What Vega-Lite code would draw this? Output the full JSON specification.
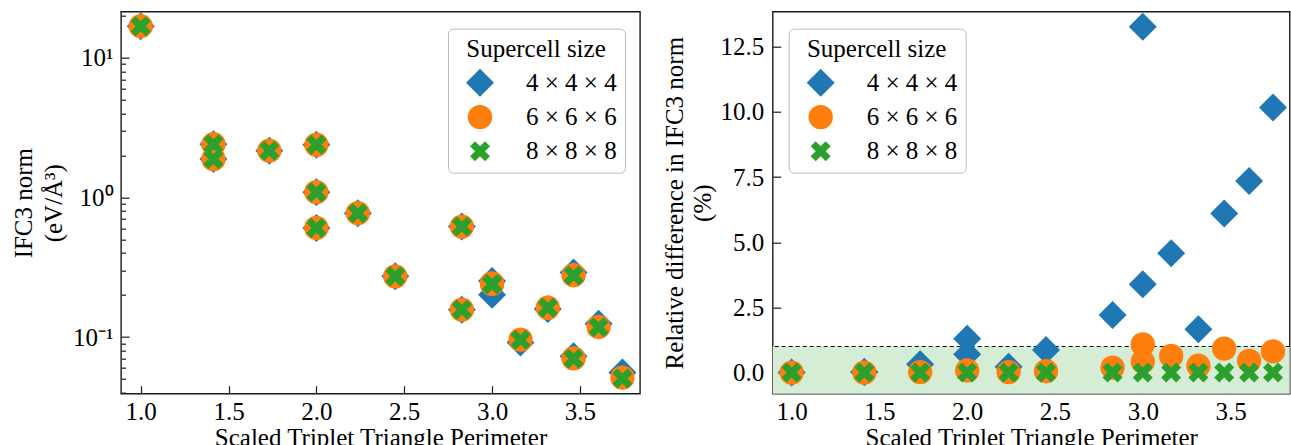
{
  "$schema": "https://vega.github.io/schema/vega-lite/v6.json",
  "padding": {"left": 10, "top": 10.7, "right": 0, "bottom": 0},
  "autosize": {"type": "pad"},
  "config": {
    "font": "Liberation Serif",
    "view": {"stroke": "#1a1a1a", "strokeWidth": 1.4},
    "axis": {
      "grid": false, "domain": false,
      "tickColor": "#1a1a1a", "tickWidth": 1.2,
      "labelFont": "Liberation Serif", "titleFont": "Liberation Serif",
      "labelFontSize": 25, "titleFontSize": 25, "titleFontWeight": "normal",
      "labelColor": "black", "titleColor": "black"
    },
    "legend": {
      "titleFont": "Liberation Serif", "labelFont": "Liberation Serif",
      "titleFontSize": 25, "labelFontSize": 25, "titleFontWeight": "normal",
      "titleColor": "black", "labelColor": "black", "titleAnchor": "middle",
      "fillColor": "white", "strokeColor": "#bbbbbb", "cornerRadius": 5,
      "padding": 8, "rowPadding": 8, "titlePadding": 7, "labelOffset": 32, "symbolOffset": 10,
      "symbolStrokeWidth": 0, "symbolOpacity": 1
    }
  },
  "datasets": {
    "norm": [
      {"x": 1.0, "size": "4 × 4 × 4", "v": 16.8},
      {"x": 1.414, "size": "4 × 4 × 4", "v": 2.40},
      {"x": 1.414, "size": "4 × 4 × 4", "v": 1.88},
      {"x": 1.732, "size": "4 × 4 × 4", "v": 2.16},
      {"x": 2.0, "size": "4 × 4 × 4", "v": 2.38},
      {"x": 2.0, "size": "4 × 4 × 4", "v": 1.09},
      {"x": 2.0, "size": "4 × 4 × 4", "v": 0.604},
      {"x": 2.236, "size": "4 × 4 × 4", "v": 0.77},
      {"x": 2.449, "size": "4 × 4 × 4", "v": 0.272},
      {"x": 2.828, "size": "4 × 4 × 4", "v": 0.618},
      {"x": 2.828, "size": "4 × 4 × 4", "v": 0.157},
      {"x": 3.0, "size": "4 × 4 × 4", "v": 0.252},
      {"x": 3.0, "size": "4 × 4 × 4", "v": 0.201},
      {"x": 3.162, "size": "4 × 4 × 4", "v": 0.0915},
      {"x": 3.317, "size": "4 × 4 × 4", "v": 0.159},
      {"x": 3.464, "size": "4 × 4 × 4", "v": 0.290},
      {"x": 3.464, "size": "4 × 4 × 4", "v": 0.0729},
      {"x": 3.606, "size": "4 × 4 × 4", "v": 0.1245},
      {"x": 3.742, "size": "4 × 4 × 4", "v": 0.0557},
      {"x": 1.0, "size": "6 × 6 × 6", "v": 16.8},
      {"x": 1.414, "size": "6 × 6 × 6", "v": 2.40},
      {"x": 1.414, "size": "6 × 6 × 6", "v": 1.88},
      {"x": 1.732, "size": "6 × 6 × 6", "v": 2.16},
      {"x": 2.0, "size": "6 × 6 × 6", "v": 2.38},
      {"x": 2.0, "size": "6 × 6 × 6", "v": 1.09},
      {"x": 2.0, "size": "6 × 6 × 6", "v": 0.604},
      {"x": 2.236, "size": "6 × 6 × 6", "v": 0.77},
      {"x": 2.449, "size": "6 × 6 × 6", "v": 0.272},
      {"x": 2.828, "size": "6 × 6 × 6", "v": 0.618},
      {"x": 2.828, "size": "6 × 6 × 6", "v": 0.157},
      {"x": 3.0, "size": "6 × 6 × 6", "v": 0.242},
      {"x": 3.0, "size": "6 × 6 × 6", "v": 0.240},
      {"x": 3.162, "size": "6 × 6 × 6", "v": 0.0957},
      {"x": 3.317, "size": "6 × 6 × 6", "v": 0.162},
      {"x": 3.464, "size": "6 × 6 × 6", "v": 0.277},
      {"x": 3.464, "size": "6 × 6 × 6", "v": 0.0703},
      {"x": 3.606, "size": "6 × 6 × 6", "v": 0.118},
      {"x": 3.742, "size": "6 × 6 × 6", "v": 0.0512},
      {"x": 1.0, "size": "8 × 8 × 8", "v": 16.8},
      {"x": 1.414, "size": "8 × 8 × 8", "v": 2.40},
      {"x": 1.414, "size": "8 × 8 × 8", "v": 1.88},
      {"x": 1.732, "size": "8 × 8 × 8", "v": 2.16},
      {"x": 2.0, "size": "8 × 8 × 8", "v": 2.38},
      {"x": 2.0, "size": "8 × 8 × 8", "v": 1.09},
      {"x": 2.0, "size": "8 × 8 × 8", "v": 0.604},
      {"x": 2.236, "size": "8 × 8 × 8", "v": 0.77},
      {"x": 2.449, "size": "8 × 8 × 8", "v": 0.272},
      {"x": 2.828, "size": "8 × 8 × 8", "v": 0.618},
      {"x": 2.828, "size": "8 × 8 × 8", "v": 0.157},
      {"x": 3.0, "size": "8 × 8 × 8", "v": 0.240},
      {"x": 3.0, "size": "8 × 8 × 8", "v": 0.239},
      {"x": 3.162, "size": "8 × 8 × 8", "v": 0.0958},
      {"x": 3.317, "size": "8 × 8 × 8", "v": 0.162},
      {"x": 3.464, "size": "8 × 8 × 8", "v": 0.276},
      {"x": 3.464, "size": "8 × 8 × 8", "v": 0.0700},
      {"x": 3.606, "size": "8 × 8 × 8", "v": 0.1175},
      {"x": 3.742, "size": "8 × 8 × 8", "v": 0.0505}
    ],
    "diff": [
      {"x": 1.0, "size": "4 × 4 × 4", "d": 0.0},
      {"x": 1.414, "size": "4 × 4 × 4", "d": 0.02},
      {"x": 1.414, "size": "4 × 4 × 4", "d": 0.02},
      {"x": 1.732, "size": "4 × 4 × 4", "d": 0.32},
      {"x": 2.0, "size": "4 × 4 × 4", "d": 1.30},
      {"x": 2.0, "size": "4 × 4 × 4", "d": 0.70},
      {"x": 2.236, "size": "4 × 4 × 4", "d": 0.22},
      {"x": 2.449, "size": "4 × 4 × 4", "d": 0.87},
      {"x": 2.828, "size": "4 × 4 × 4", "d": 2.21},
      {"x": 3.0, "size": "4 × 4 × 4", "d": 13.26},
      {"x": 3.0, "size": "4 × 4 × 4", "d": 3.39},
      {"x": 3.162, "size": "4 × 4 × 4", "d": 4.58},
      {"x": 3.317, "size": "4 × 4 × 4", "d": 1.66},
      {"x": 3.464, "size": "4 × 4 × 4", "d": 6.10},
      {"x": 3.606, "size": "4 × 4 × 4", "d": 7.35},
      {"x": 3.742, "size": "4 × 4 × 4", "d": 10.17},
      {"x": 1.0, "size": "6 × 6 × 6", "d": 0.0},
      {"x": 1.414, "size": "6 × 6 × 6", "d": 0.0},
      {"x": 1.732, "size": "6 × 6 × 6", "d": 0.02},
      {"x": 2.0, "size": "6 × 6 × 6", "d": 0.08},
      {"x": 2.236, "size": "6 × 6 × 6", "d": 0.02},
      {"x": 2.449, "size": "6 × 6 × 6", "d": 0.05},
      {"x": 2.828, "size": "6 × 6 × 6", "d": 0.19},
      {"x": 3.0, "size": "6 × 6 × 6", "d": 1.08},
      {"x": 3.0, "size": "6 × 6 × 6", "d": 0.42},
      {"x": 3.162, "size": "6 × 6 × 6", "d": 0.64},
      {"x": 3.317, "size": "6 × 6 × 6", "d": 0.26},
      {"x": 3.464, "size": "6 × 6 × 6", "d": 0.92},
      {"x": 3.606, "size": "6 × 6 × 6", "d": 0.45},
      {"x": 3.742, "size": "6 × 6 × 6", "d": 0.81},
      {"x": 1.0, "size": "8 × 8 × 8", "d": 0.0},
      {"x": 1.414, "size": "8 × 8 × 8", "d": 0.0},
      {"x": 1.732, "size": "8 × 8 × 8", "d": 0.0},
      {"x": 2.0, "size": "8 × 8 × 8", "d": 0.0},
      {"x": 2.236, "size": "8 × 8 × 8", "d": 0.0},
      {"x": 2.449, "size": "8 × 8 × 8", "d": 0.0},
      {"x": 2.828, "size": "8 × 8 × 8", "d": 0.0},
      {"x": 3.0, "size": "8 × 8 × 8", "d": 0.0},
      {"x": 3.162, "size": "8 × 8 × 8", "d": 0.0},
      {"x": 3.317, "size": "8 × 8 × 8", "d": 0.0},
      {"x": 3.464, "size": "8 × 8 × 8", "d": 0.0},
      {"x": 3.606, "size": "8 × 8 × 8", "d": 0.0},
      {"x": 3.742, "size": "8 × 8 × 8", "d": 0.0}
    ]
  },
  "bounds": "flush",
  "spacing": 132.7,
  "resolve": {
    "scale": {"color": "independent", "shape": "independent", "size": "independent", "x": "independent", "y": "independent"},
    "legend": {"color": "independent", "shape": "independent", "size": "independent"}
  },
  "hconcat": [
    {
      "width": 519,
      "height": 382,
      "data": {"name": "norm"},
      "mark": {"type": "point", "filled": true, "opacity": 1, "strokeWidth": 0},
      "encoding": {
        "x": {
          "field": "x", "type": "quantitative",
          "scale": {"domain": [0.888, 3.842], "nice": false, "zero": false},
          "axis": {"values": [1, 1.5, 2, 2.5, 3, 3.5], "format": ".1f", "tickSize": -8, "labelPadding": 14, "title": "Scaled Triplet Triangle Perimeter", "titlePadding": 0.5}
        },
        "y": {
          "field": "v", "type": "quantitative",
          "scale": {"type": "log", "domain": [0.0393, 21.35], "nice": false},
          "axis": {
            "values": [0.04, 0.05, 0.06, 0.07, 0.08, 0.09, 0.1, 0.2, 0.3, 0.4, 0.5, 0.6, 0.7, 0.8, 0.9, 1, 2, 3, 4, 5, 6, 7, 8, 9, 10, 20],
            "labelExpr": "abs(log(datum.value)/LN10 - round(log(datum.value)/LN10)) < 1e-6 ? (datum.value >= 9 ? '10¹' : (datum.value >= 0.9 ? '10⁰' : '10⁻¹')) : ''",
            "labelFontSize": {"condition": {"test": "abs(log(datum.value)/LN10 - round(log(datum.value)/LN10)) < 1e-6", "value": 25}, "value": 0},
            "tickSize": {"condition": {"test": "abs(log(datum.value)/LN10 - round(log(datum.value)/LN10)) < 1e-6", "value": -8}, "value": -4.5},
            "labelPadding": 16,
            "labelOverlap": false,
            "title": ["IFC3 norm", "(eV/Å³)"],
            "titlePadding": 6,
            "titleLineHeight": 30
          }
        },
        "color": {
          "field": "size", "type": "nominal", "title": "Supercell size",
          "scale": {"domain": ["4 × 4 × 4", "6 × 6 × 6", "8 × 8 × 8"], "range": ["#1f77b4", "#ff7f0e", "#2ca02c"]},
          "legend": {"orient": "none", "legendX": 327, "legendY": 17}
        },
        "shape": {
          "field": "size", "type": "nominal", "title": "Supercell size",
          "scale": {"domain": ["4 × 4 × 4", "6 × 6 × 6", "8 × 8 × 8"], "range": ["diamond", "circle", "M-1,-0.5L-0.5,-1L0,-0.5L0.5,-1L1,-0.5L0.5,0L1,0.5L0.5,1L0,0.5L-0.5,1L-1,0.5L-0.5,0Z"]},
          "legend": {"orient": "none", "legendX": 327, "legendY": 17}
        },
        "size": {
          "field": "size", "type": "nominal", "title": "Supercell size",
          "scale": {"domain": ["4 × 4 × 4", "6 × 6 × 6", "8 × 8 × 8"], "range": [784, 400, 289]},
          "legend": {"orient": "none", "legendX": 327, "legendY": 17}
        }
      }
    },
    {
      "width": 517,
      "height": 382,
      "layer": [
        {
          "data": {"values": [{}]},
          "mark": {"type": "rect", "color": "#d5ecd5"},
          "encoding": {
            "y": {"datum": -0.81, "type": "quantitative"},
            "y2": {"datum": 1}
          }
        },
        {
          "data": {"values": [{}]},
          "mark": {"type": "rule", "color": "black", "strokeDash": [4, 3], "strokeWidth": 1},
          "encoding": {"y": {"datum": 1, "type": "quantitative"}}
        },
        {
          "data": {"name": "diff"},
          "mark": {"type": "point", "filled": true, "opacity": 1, "strokeWidth": 0},
          "encoding": {
            "x": {
              "field": "x", "type": "quantitative",
              "scale": {"domain": [0.892, 3.837], "nice": false, "zero": false},
              "axis": {"values": [1, 1.5, 2, 2.5, 3, 3.5], "format": ".1f", "tickSize": -8, "labelPadding": 14, "title": "Scaled Triplet Triangle Perimeter", "titlePadding": 0.5}
            },
            "y": {
              "field": "d", "type": "quantitative",
              "scale": {"domain": [-0.81, 13.84], "nice": false, "zero": false},
              "axis": {"values": [0, 2.5, 5, 7.5, 10, 12.5], "format": ".1f", "tickSize": -8, "labelPadding": 17, "title": ["Relative difference in IFC3 norm", "(%)"], "titlePadding": 4, "titleLineHeight": 28}
            },
            "color": {
              "field": "size", "type": "nominal", "title": "Supercell size",
              "scale": {"domain": ["4 × 4 × 4", "6 × 6 × 6", "8 × 8 × 8"], "range": ["#1f77b4", "#ff7f0e", "#2ca02c"]},
              "legend": {"orient": "none", "legendX": 16, "legendY": 17}
            },
            "shape": {
              "field": "size", "type": "nominal", "title": "Supercell size",
              "scale": {"domain": ["4 × 4 × 4", "6 × 6 × 6", "8 × 8 × 8"], "range": ["diamond", "circle", "M-1,-0.5L-0.5,-1L0,-0.5L0.5,-1L1,-0.5L0.5,0L1,0.5L0.5,1L0,0.5L-0.5,1L-1,0.5L-0.5,0Z"]},
              "legend": {"orient": "none", "legendX": 16, "legendY": 17}
            },
            "size": {
              "field": "size", "type": "nominal", "title": "Supercell size",
              "scale": {"domain": ["4 × 4 × 4", "6 × 6 × 6", "8 × 8 × 8"], "range": [784, 400, 289]},
              "legend": {"orient": "none", "legendX": 16, "legendY": 17}
            }
          }
        }
      ]
    }
  ]
}
